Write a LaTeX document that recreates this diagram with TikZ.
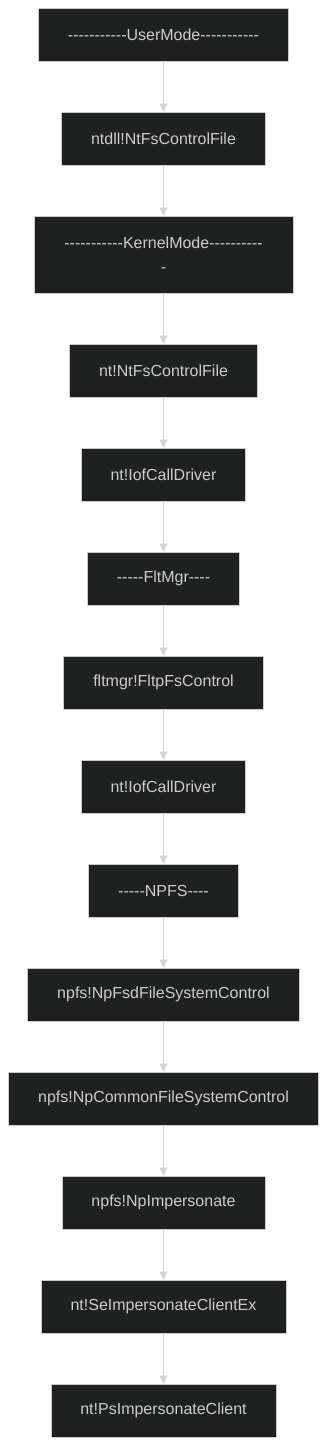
\documentclass[tikz,border=0pt]{standalone}
\usepackage{fontspec}
\setmainfont{Liberation Sans}[Ligatures=TeXOff]
\usetikzlibrary{arrows.meta}
\definecolor{boxfill}{HTML}{1F2020}
\definecolor{boxline}{HTML}{CCCCCC}
\definecolor{txt}{HTML}{CCCCCC}
\definecolor{edge}{HTML}{D3D3D3}
\begin{document}
\begin{tikzpicture}[x=1pt,y=-1pt,
  fbox/.style={draw=boxline,line width=0.8pt,fill=boxfill,text=txt,inner sep=0pt,
    font=\fontsize{16}{24}\selectfont,align=center},
  flow/.style={draw=edge,line width=1pt,-{Triangle[width=8pt,length=8pt]}}]
\useasboundingbox (0,0) rectangle (327,1446);
\def\bx#1#2#3#4#5#6{\node[fbox,minimum width=#3-#2,minimum height=#5-#4] (#1) at ({163.5},{(#4+#5)/2}) {#6};}
\bx{n1}{38}{288}{8}{61}{-----------UserMode-----------}
\bx{n2}{61}{265}{112}{165}{ntdll!NtFsControlFile}
\bx{n3}{34}{293}{216}{293}{-----------KernelMode----------\\-}
\bx{n4}{69}{257}{344}{397}{nt!NtFsControlFile}
\bx{n5}{81}{245}{448}{501}{nt!IofCallDriver}
\bx{n6}{87}{239}{552}{605}{-----FltMgr----}
\bx{n7}{63}{263}{656}{709}{fltmgr!FltpFsControl}
\bx{n8}{81}{245}{760}{813}{nt!IofCallDriver}
\bx{n9}{88}{238}{864}{917}{-----NPFS----}
\bx{n10}{27}{299}{968}{1021}{npfs!NpFsdFileSystemControl}
\bx{n11}{8}{318}{1072}{1125}{npfs!NpCommonFileSystemControl}
\bx{n12}{62}{265}{1176}{1229}{npfs!NpImpersonate}
\bx{n13}{41}{286}{1280}{1333}{nt!SeImpersonateClientEx}
\bx{n14}{51}{276}{1384}{1437}{nt!PsImpersonateClient}
\foreach \a/\b in {n1/n2,n2/n3,n3/n4,n4/n5,n5/n6,n6/n7,n7/n8,n8/n9,n9/n10,n10/n11,n11/n12,n12/n13,n13/n14}
  \draw[flow] (\a.south) -- (\b.north);
\end{tikzpicture}
\end{document}
